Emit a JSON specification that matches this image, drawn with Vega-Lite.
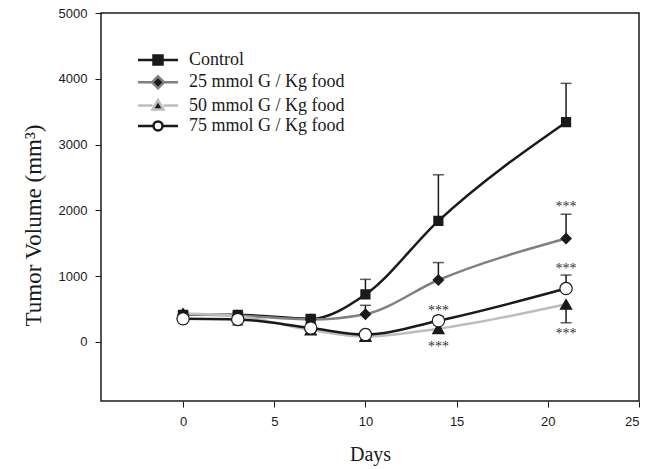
{
  "$schema": "https://vega.github.io/schema/vega-lite/v6.json",
  "width": 538,
  "height": 388,
  "autosize": {"type": "none"},
  "padding": {"left": 101, "top": 13, "right": 19, "bottom": 68},
  "background": "white",
  "config": {
    "view": {"stroke": "#1a1a1a", "strokeWidth": 1.5},
    "axis": {
      "domain": false,
      "grid": false,
      "tickColor": "#1a1a1a",
      "tickSize": 6,
      "tickWidth": 1,
      "labelFont": "Liberation Sans",
      "labelFontSize": 13,
      "labelColor": "#1a1a1a",
      "titleFont": "Liberation Serif",
      "titleFontSize": 20,
      "titleFontWeight": "normal",
      "titleColor": "#1a1a1a"
    }
  },
  "datasets": {
    "means": [
      {"group": "Control", "day": 0, "volume": 410},
      {"group": "Control", "day": 3, "volume": 410},
      {"group": "Control", "day": 7, "volume": 350},
      {"group": "Control", "day": 10, "volume": 720},
      {"group": "Control", "day": 14, "volume": 1840},
      {"group": "Control", "day": 21, "volume": 3340},
      {"group": "25 mmol G / Kg food", "day": 0, "volume": 420},
      {"group": "25 mmol G / Kg food", "day": 3, "volume": 400},
      {"group": "25 mmol G / Kg food", "day": 7, "volume": 340},
      {"group": "25 mmol G / Kg food", "day": 10, "volume": 420},
      {"group": "25 mmol G / Kg food", "day": 14, "volume": 940},
      {"group": "25 mmol G / Kg food", "day": 21, "volume": 1570},
      {"group": "50 mmol G / Kg food", "day": 0, "volume": 430},
      {"group": "50 mmol G / Kg food", "day": 3, "volume": 390},
      {"group": "50 mmol G / Kg food", "day": 7, "volume": 180},
      {"group": "50 mmol G / Kg food", "day": 10, "volume": 80},
      {"group": "50 mmol G / Kg food", "day": 14, "volume": 200},
      {"group": "50 mmol G / Kg food", "day": 21, "volume": 570},
      {"group": "75 mmol G / Kg food", "day": 0, "volume": 350},
      {"group": "75 mmol G / Kg food", "day": 3, "volume": 340},
      {"group": "75 mmol G / Kg food", "day": 7, "volume": 210},
      {"group": "75 mmol G / Kg food", "day": 10, "volume": 110},
      {"group": "75 mmol G / Kg food", "day": 14, "volume": 320},
      {"group": "75 mmol G / Kg food", "day": 21, "volume": 810}
    ],
    "errors": [
      {"group": "Control", "day": 0, "volume": 410, "cap": 455},
      {"group": "Control", "day": 3, "volume": 410, "cap": 450},
      {"group": "Control", "day": 7, "volume": 350, "cap": 390},
      {"group": "Control", "day": 10, "volume": 720, "cap": 950},
      {"group": "Control", "day": 14, "volume": 1840, "cap": 2540},
      {"group": "Control", "day": 21, "volume": 3340, "cap": 3930},
      {"group": "25 mmol G / Kg food", "day": 10, "volume": 420, "cap": 555},
      {"group": "25 mmol G / Kg food", "day": 14, "volume": 940, "cap": 1205},
      {"group": "25 mmol G / Kg food", "day": 21, "volume": 1570, "cap": 1940},
      {"group": "50 mmol G / Kg food", "day": 14, "volume": 200, "cap": 130},
      {"group": "50 mmol G / Kg food", "day": 21, "volume": 570, "cap": 290},
      {"group": "75 mmol G / Kg food", "day": 3, "volume": 340, "cap": 255},
      {"group": "75 mmol G / Kg food", "day": 14, "volume": 320, "cap": 385},
      {"group": "75 mmol G / Kg food", "day": 21, "volume": 810, "cap": 1015}
    ],
    "stars": [
      {"day": 14, "volume": 510, "label": "***"},
      {"day": 14, "volume": -40, "label": "***"},
      {"day": 21, "volume": 2100, "label": "***"},
      {"day": 21, "volume": 1150, "label": "***"},
      {"day": 21, "volume": 165, "label": "***"}
    ]
  },
  "encoding": {
    "x": {
      "field": "day",
      "type": "quantitative",
      "scale": {"domain": [-4.5, 25], "nice": false, "zero": false},
      "axis": {"values": [0, 5, 10, 15, 20, 25], "format": "d", "title": "Days", "labelPadding": 8, "titlePadding": 16}
    },
    "y": {
      "field": "volume",
      "type": "quantitative",
      "scale": {"domain": [-900, 5000], "nice": false, "zero": false},
      "axis": {"values": [0, 1000, 2000, 3000, 4000, 5000], "format": "d", "title": "Tumor Volume (mm³)", "titleFontSize": 23, "labelPadding": 8, "titlePadding": 13, "titleY": 212}
    }
  },
  "layer": [
    {
      "data": {"name": "means"},
      "mark": {"type": "line", "interpolate": "monotone", "strokeWidth": 2.5},
      "encoding": {
        "detail": {"field": "group"},
        "stroke": {
          "field": "group",
          "type": "nominal",
          "scale": {"domain": ["Control", "25 mmol G / Kg food", "50 mmol G / Kg food", "75 mmol G / Kg food"], "range": ["#1a1a1a", "#808080", "#bdbdbd", "#1a1a1a"]},
          "legend": null
        }
      }
    },
    {
      "data": {"name": "errors"},
      "mark": {"type": "rule", "color": "#1a1a1a", "strokeWidth": 1.5},
      "encoding": {
        "y2": {"field": "cap"}
      }
    },
    {
      "data": {"name": "errors"},
      "mark": {"type": "tick", "orient": "horizontal", "color": "#1a1a1a", "size": 11, "thickness": 1.5},
      "encoding": {
        "y": {"field": "cap", "type": "quantitative"}
      }
    },
    {
      "data": {"name": "means"},
      "mark": {"type": "point", "filled": true, "strokeWidth": 1.2, "opacity": 1},
      "encoding": {
        "shape": {
          "field": "group",
          "type": "nominal",
          "scale": {"domain": ["Control", "25 mmol G / Kg food", "50 mmol G / Kg food", "75 mmol G / Kg food"], "range": ["square", "diamond", "triangle-up", "circle"]},
          "legend": null
        },
        "size": {
          "field": "group",
          "type": "nominal",
          "scale": {"domain": ["Control", "25 mmol G / Kg food", "50 mmol G / Kg food", "75 mmol G / Kg food"], "range": [81, 150, 110, 75]},
          "legend": null
        },
        "fill": {
          "field": "group",
          "type": "nominal",
          "scale": {"domain": ["Control", "25 mmol G / Kg food", "50 mmol G / Kg food", "75 mmol G / Kg food"], "range": ["#1a1a1a", "#1a1a1a", "#1a1a1a", "#ffffff"]},
          "legend": null
        },
        "stroke": {
          "field": "group",
          "type": "nominal",
          "scale": {"domain": ["Control", "25 mmol G / Kg food", "50 mmol G / Kg food", "75 mmol G / Kg food"], "range": ["#1a1a1a", "#1a1a1a", "#1a1a1a", "#1a1a1a"]},
          "legend": null
        }
      }
    },
    {
      "data": {"name": "stars"},
      "mark": {"type": "text", "font": "Liberation Serif", "fontSize": 14, "fill": "#333333", "baseline": "middle", "dy": 3},
      "encoding": {
        "text": {"field": "label"}
      }
    },
    {
      "data": {"name": "means"},
      "transform": [{"filter": "datum.day < -100"}],
      "mark": {"type": "point", "filled": true, "strokeWidth": 2.5, "opacity": 1},
      "encoding": {
        "shape": {
          "field": "group",
          "type": "nominal",
          "scale": {"domain": ["Control", "25 mmol G / Kg food", "50 mmol G / Kg food", "75 mmol G / Kg food"],
            "range": [
              "M-4,0H-0.9M0.9,0H4M-0.9,-0.9H0.9V0.9H-0.9Z",
              "M-4,0H-1.2M1.2,0H4M0,-1.2L1.2,0L0,1.2L-1.2,0Z",
              "M-4,0H-1.1M1.1,0H4M0,-1.1L1.1,0.8H-1.1Z",
              "M-4,0H-0.9M0.9,0H4M-0.9,0A0.9,0.9 0 1,0 0.9,0A0.9,0.9 0 1,0 -0.9,0Z"
            ]},
          "legend": {
            "title": null,
            "orient": "none",
            "legendX": 48,
            "legendY": 38,
            "padding": 0,
            "symbolSize": 100,
            "symbolStrokeWidth": 2.5,
            "symbolOpacity": 1,
            "labelFont": "Liberation Serif",
            "labelFontSize": 18,
            "labelColor": "#1a1a1a",
            "labelOffset": 22,
            "rowPadding": 1.3,
            "labelLimit": 400
          }
        },
        "size": {"value": 100},
        "fill": {
          "field": "group",
          "type": "nominal",
          "scale": {"domain": ["Control", "25 mmol G / Kg food", "50 mmol G / Kg food", "75 mmol G / Kg food"], "range": ["#1a1a1a", "#1a1a1a", "#1a1a1a", "#ffffff"]}
        },
        "stroke": {
          "field": "group",
          "type": "nominal",
          "scale": {"domain": ["Control", "25 mmol G / Kg food", "50 mmol G / Kg food", "75 mmol G / Kg food"], "range": ["#1a1a1a", "#808080", "#bdbdbd", "#1a1a1a"]}
        }
      }
    }
  ],
  "resolve": {"scale": {"shape": "independent", "fill": "independent", "stroke": "independent", "size": "independent"}}
}
